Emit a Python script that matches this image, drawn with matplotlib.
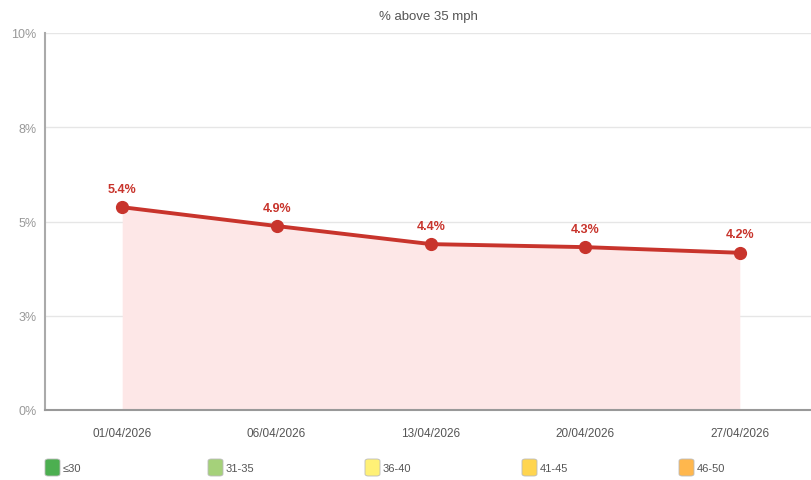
import matplotlib.pyplot as plt
from matplotlib.patches import FancyBboxPatch

dates = ['01/04/2026', '06/04/2026', '13/04/2026', '20/04/2026', '27/04/2026']
pct_above = [5.38, 4.88, 4.40, 4.32, 4.17]
y_ticks = [0, 2.5, 5, 7.5, 10]
y_tick_labels = ['0%', '3%', '5%', '8%', '10%']
legend_labels = ['≤30', '31-35', '36-40', '41-45', '46-50']
legend_colors = ['#4caf50', '#a5d17a', '#fff176', '#ffd54f', '#ffb74d']

LINE = '#c8342c'
FILL = '#fde7e7'
GRID = '#e6e6e6'
TXT = '#666666'

plt.rcParams['font.family'] = ['Liberation Sans', 'DejaVu Sans']

fig = plt.figure(figsize=(8.12, 4.81), dpi=100)
ax = fig.add_axes([45 / 812, 1 - 411 / 481, (817 - 45) / 812, (411 - 34) / 481])

x = list(range(len(dates)))
ax.fill_between(x, pct_above, 0, color=FILL, lw=0, zorder=1)
ax.plot(x, pct_above, color=LINE, lw=2.8, marker='o', ms=8.5, zorder=3)
for xi, v in zip(x, pct_above):
    ax.annotate(f'{v:.1f}%', (xi, v), xytext=(0, 9), textcoords='offset points',
                ha='center', va='bottom', color=LINE, fontsize=9, fontweight='bold')

ax.set_xlim(-0.5, 4.5)
ax.set_ylim(0, 10)
ax.set_yticks(y_ticks)
ax.set_yticklabels(y_tick_labels)
ax.set_xticks(x)
ax.set_xticklabels(dates)
ax.tick_params(axis='both', length=0, colors=TXT, labelsize=8.5)
ax.tick_params(axis='x', pad=12, colors='#555555')
ax.tick_params(axis='y', pad=6, colors='#999999', labelsize=9)
for yv in y_ticks[1:]:
    ax.axhline(yv, color=GRID, lw=1, zorder=0)
for s in ['top', 'right']:
    ax.spines[s].set_visible(False)
ax.spines['left'].set_color('#aaaaaa')
ax.spines['left'].set_linewidth(1.5)
ax.spines['bottom'].set_color('#999999')
ax.spines['bottom'].set_linewidth(1.5)

fig.text(428 / 812, 1 - 17 / 481, '% above 35 mph', ha='center', va='center',
         color='#555555', fontsize=9.5)

# legend along the bottom
leg_x = [45, 208, 365, 522, 679]
for lx, lab, col in zip(leg_x, legend_labels, legend_colors):
    fig.patches.append(FancyBboxPatch((lx / 812, 1 - 477 / 481), 15 / 812, 17 / 481,
                                      boxstyle='round,pad=0,rounding_size=0.004',
                                      transform=fig.transFigure, facecolor=col,
                                      edgecolor='#bbbbbb', lw=0.6))
    fig.text((lx + 18) / 812, 1 - 469 / 481, lab, ha='left', va='center',
             color='#555555', fontsize=8)

fig.savefig('out.png', dpi=100)
